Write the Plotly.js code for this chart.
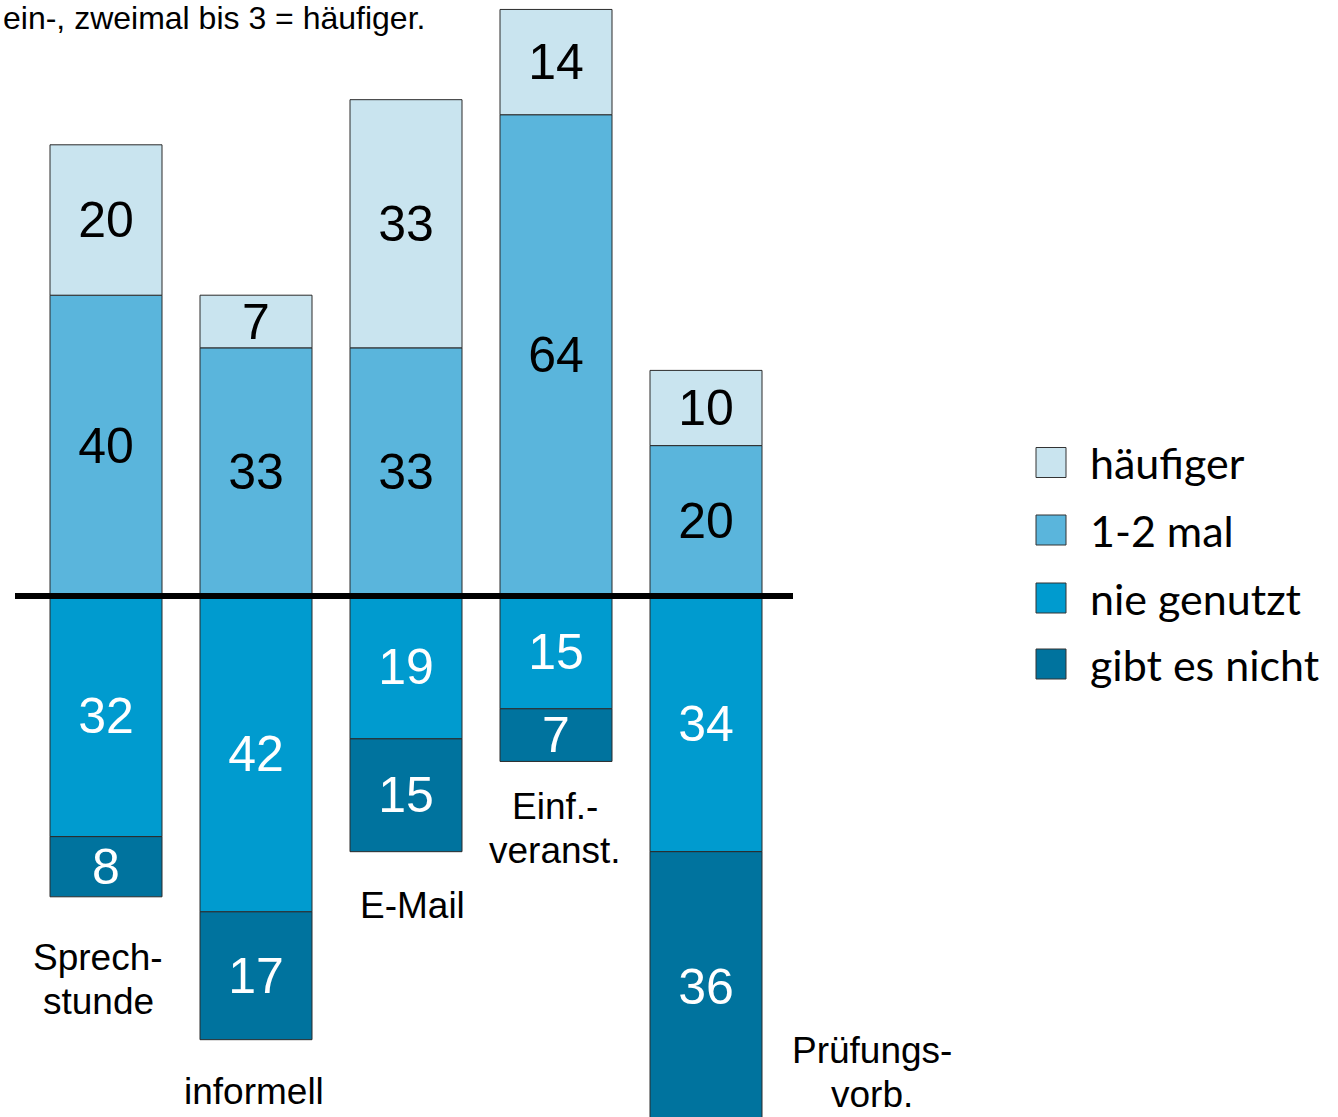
<!DOCTYPE html>
<html>
<head>
<meta charset="utf-8">
<script src="https://cdn.plot.ly/plotly-3.0.1.min.js"></script>
<style>html,body{margin:0;padding:0;background:#fff;}#chart{width:1338px;height:1117px;}</style>
</head>
<body>
<div id="chart"></div>
<script>
// ---- data ----
const categories = ["Sprechstunde", "informell", "E-Mail", "Einf.-veranst.", "Prüfungsvorb."];
const categoryLabels = [["Sprech-", "stunde"], ["informell"], ["E-Mail"], ["Einf.-", "veranst."], ["Prüfungs-", "vorb."]];
const seriesNames = ["häufiger", "1-2 mal", "nie genutzt", "gibt es nicht"];
const haeufiger = [20, 7, 33, 14, 10];
const einZweiMal = [40, 33, 33, 64, 20];
const nieGenutzt = [-32, -42, -19, -15, -34];
const gibtEsNicht = [-8, -17, -15, -7, -36];
const noteText = "ein-, zweimal bis 3 = häufiger.";

// ---- styling ----
const W = 1338, H = 1117;
const colors = {"häufiger": "#C9E4EF", "1-2 mal": "#5AB5DC", "nie genutzt": "#009BCF", "gibt es nicht": "#00739E"};
const textColors = {"häufiger": "#000000", "1-2 mal": "#000000", "nie genutzt": "#FFFFFF", "gibt es nicht": "#FFFFFF"};
const basePx = 596, pxPerUnit = 7.52;
const yd = py => (basePx - py) / pxPerUnit;
const xp = px => px / W;
const ypp = py => 1 - py / H;

function barTrace(name, vals) {
  return {
    type: "bar", name: name, x: categories, y: vals,
    text: vals.map(v => String(Math.abs(v))),
    textposition: "inside", insidetextanchor: "middle", textangle: 0,
    constraintext: "none",
    textfont: {family: "Liberation Sans, Arial, sans-serif", size: 50, color: textColors[name]},
    marker: {color: colors[name], line: {color: "#2b2b2b", width: 1}},
    hoverinfo: "skip", showlegend: false
  };
}

const data = [
  barTrace("1-2 mal", einZweiMal),
  barTrace("häufiger", haeufiger),
  barTrace("nie genutzt", nieGenutzt),
  barTrace("gibt es nicht", gibtEsNicht)
];

// category label placement (pixel positions of the first line)
const labelPos = [
  {xshift: -8, py: 957},
  {xshift: -2, py: 1091},
  {xshift: 6, py: 905},
  {xshift: -1, py: 806},
  {xshift: 166, py: 1050}
];
const lineGap = 44;

const annotations = [];
categories.forEach((c, i) => {
  categoryLabels[i].forEach((line, k) => {
    annotations.push({
      x: c, xref: "x", y: yd(labelPos[i].py + k * lineGap), yref: "y",
      xshift: labelPos[i].xshift, text: line, showarrow: false,
      xanchor: "center", yanchor: "middle", align: "center",
      font: {family: "Liberation Sans, Arial, sans-serif", size: 37, color: "#000"}
    });
  });
});
annotations.push({
  x: 0, xref: "paper", y: 1, yref: "paper", xanchor: "left", yanchor: "top",
  xshift: 1, yshift: 2, text: noteText, showarrow: false,
  font: {family: "Liberation Sans, Arial, sans-serif", size: 32, color: "#000"}
});

// manual legend
const legendCenters = [462.5, 530, 598, 664];
const shapes = [];
seriesNames.forEach((n, i) => {
  const cy = legendCenters[i];
  shapes.push({
    type: "rect", xref: "paper", yref: "paper",
    x0: xp(1036), x1: xp(1066), y0: ypp(cy + 15), y1: ypp(cy - 15),
    fillcolor: colors[n], line: {color: "#333", width: 1}
  });
  annotations.push({
    x: xp(1088), xref: "paper", y: ypp(cy), yref: "paper",
    xanchor: "left", yanchor: "middle", text: n, showarrow: false,
    font: {family: "Lato, Open Sans, sans-serif", size: 43, color: "#000"}
  });
});
// zero line
shapes.push({
  type: "line", xref: "paper", yref: "y", x0: xp(15), x1: xp(793), y0: 0, y1: 0,
  line: {color: "#000", width: 6}, layer: "above"
});

const layout = {
  width: W, height: H,
  margin: {l: 0, r: 0, t: 0, b: 0, pad: 0},
  paper_bgcolor: "#fff", plot_bgcolor: "#fff",
  barmode: "relative", bargap: 0.2533,
  showlegend: false,
  xaxis: {type: "category", range: [-106 / 150, (W - 106) / 150], visible: false, fixedrange: true},
  yaxis: {range: [yd(H), yd(0)], visible: false, zeroline: false, showgrid: false, fixedrange: true},
  annotations: annotations, shapes: shapes
};

Plotly.newPlot("chart", data, layout, {displayModeBar: false, staticPlot: true});
</script>
</body>
</html>
